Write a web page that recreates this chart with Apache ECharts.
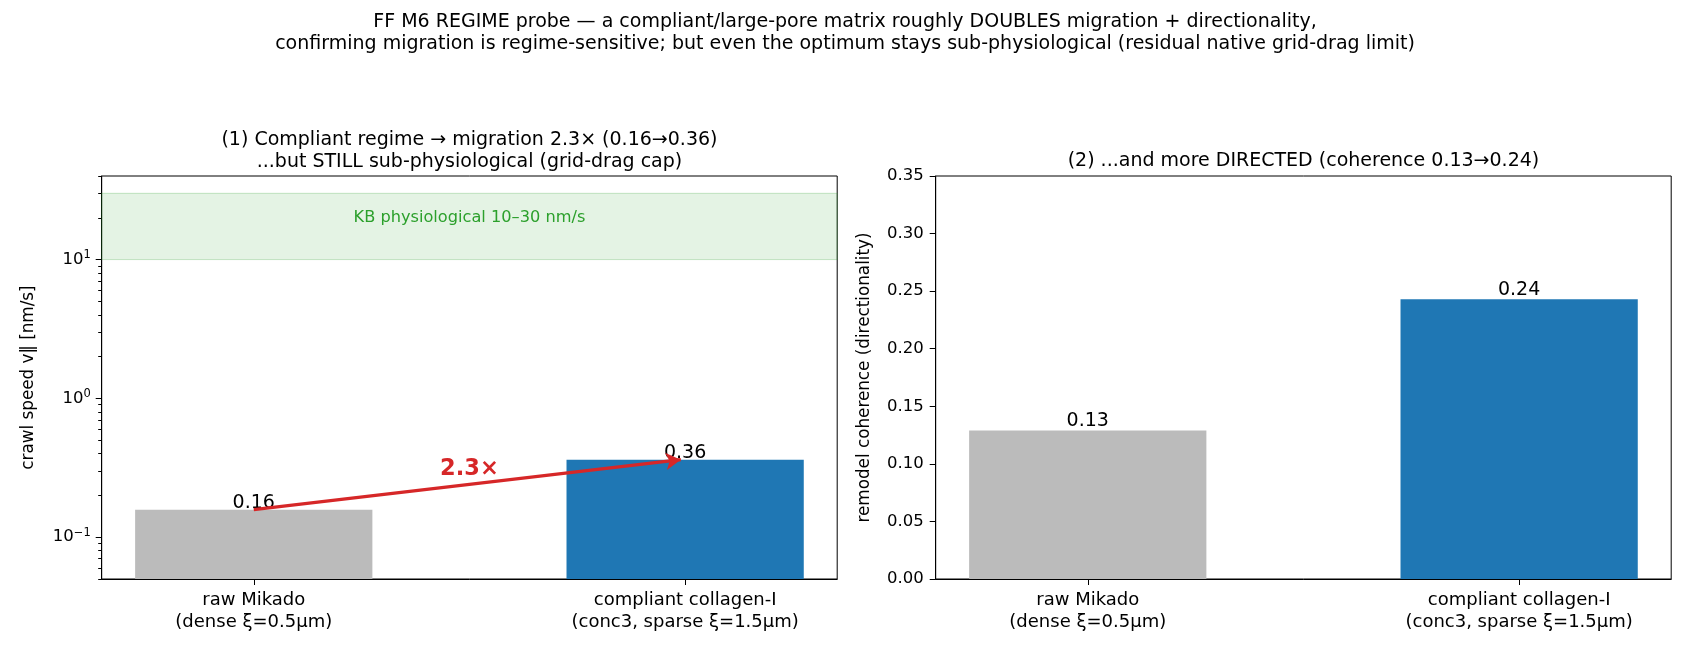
<!DOCTYPE html>
<html>
<head>
<meta charset="utf-8">
<title>FF M6 regime probe</title>
<script src="https://cdn.jsdelivr.net/npm/echarts@6.0.0/dist/echarts.min.js"></script>
<style>
    html, body { margin: 0; padding: 0; background: #fff; }
    #chart { width: 1690px; height: 650px; }
</style>
</head>
<body>
<div id="chart"></div>
<script>
// data
var categories = ['raw Mikado\n(dense ξ=0.5μm)', 'compliant collagen-I\n(conc3, sparse ξ=1.5μm)'];
var barColors = ['#bbbbbb', '#1f77b4'];
var crawlSpeed = [0.158, 0.362];
var coherence = [0.129, 0.243];
var physioBand = [10, 30];
var physioLabel = 'KB physiological 10–30 nm/s';
var foldText = '2.3×';
var logMajorTicks = [0.1, 1, 10];
var logMinorTicks = [0.05, 0.06, 0.07, 0.08, 0.09, 0.2, 0.3, 0.4, 0.5, 0.6, 0.7, 0.8, 0.9,
    2, 3, 4, 5, 6, 7, 8, 9, 20, 30, 40];

var FONT = 'DejaVu Sans';
var gridW = 735.5, gridH = 403, gridTop = 176;
var grids = [101.7, 935.7];
var xMin = -0.3525, xMax = 1.3525;
var barW = 0.55 / (xMax - xMin) * gridW;

function barData(vals) {
    return vals.map((v, i) => { return { value: [i, v], itemStyle: { color: barColors[i] } } });
}

function xAxisFor(idx) {
    return {
        type: 'value', gridIndex: idx, min: xMin, max: xMax,
        splitLine: { show: false },
        axisLine: { show: true, onZero: false, lineStyle: { color: '#000', width: 1 } },
        axisTick: { show: true, customValues: [0, 1], length: 6, lineStyle: { color: '#000' } },
        axisLabel: {
            customValues: [0, 1], margin: 10, color: '#000', fontFamily: FONT, fontSize: 18,
            lineHeight: 22, formatter: v => categories[Math.round(v)]
        }
    };
}

var supRich = {
    b: { fontFamily: FONT, fontSize: 16.5, color: '#000' },
    s: { fontFamily: FONT, fontSize: 11.5, color: '#000', verticalAlign: 'top', padding: [0, 0, 9, 0] }
};

var option = {
    animation: false,
    grid: grids.map(l => ({ left: l, top: gridTop, width: gridW, height: gridH, show: true,
        borderColor: '#000', borderWidth: 1, backgroundColor: 'transparent' })),
    xAxis: [xAxisFor(0), xAxisFor(1)],
    yAxis: [
        {
            type: 'log', logBase: 10, gridIndex: 0, min: 0.05, max: 40, startValue: 0.05, position: 'left',
            name: 'crawl speed v‖ [nm/s]', nameLocation: 'middle', nameGap: 65,
            nameTextStyle: { fontFamily: FONT, fontSize: 16.8, color: '#000' },
            splitLine: { show: false },
            axisLine: { show: true, onZero: false, lineStyle: { color: '#000' } },
            axisTick: { show: true, customValues: logMajorTicks, length: 6, lineStyle: { color: '#000' } },
            axisLabel: {
                customValues: logMajorTicks, margin: 11,
                formatter: v => '{b|10}{s|' + String(Math.round(Math.log10(v))).replace('-', '\u2212') + '}',
                rich: supRich
            }
        },
        {
            type: 'log', logBase: 10, gridIndex: 0, min: 0.05, max: 40, position: 'left',
            splitLine: { show: false }, axisLine: { show: false, onZero: false }, axisLabel: { show: false },
            axisTick: { show: true, customValues: logMinorTicks, length: 3.5, lineStyle: { color: '#000' } }
        },
        {
            type: 'value', gridIndex: 1, min: 0, max: 0.35, interval: 0.05, position: 'left',
            name: 'remodel coherence (directionality)', nameLocation: 'middle', nameGap: 63,
            nameTextStyle: { fontFamily: FONT, fontSize: 16.8, color: '#000' },
            splitLine: { show: false },
            axisLine: { show: true, onZero: false, lineStyle: { color: '#000' } },
            axisTick: { show: true, length: 6, lineStyle: { color: '#000' } },
            axisLabel: { margin: 12, color: '#000', fontFamily: FONT, fontSize: 16.5, formatter: v => v.toFixed(2) }
        }
    ],
    graphic: [
        { type: 'text', left: 'center', top: 11, style: {
            text: 'FF M6 REGIME probe — a compliant/large-pore matrix roughly DOUBLES migration + directionality,\nconfirming migration is regime-sensitive; but even the optimum stays sub-physiological (residual native grid-drag limit)',
            font: '19px "' + FONT + '"', fill: '#000', textAlign: 'center', lineHeight: 22 } },
        { type: 'text', x: grids[0] + gridW / 2, y: 129, style: {
            text: '(1) Compliant regime → migration 2.3× (0.16→0.36)\n...but STILL sub-physiological (grid-drag cap)',
            font: '19px "' + FONT + '"', fill: '#000', textAlign: 'center', lineHeight: 22 } },
        { type: 'text', x: grids[1] + gridW / 2, y: 152, style: {
            text: '(2) ...and more DIRECTED (coherence 0.13→0.24)',
            font: '19px "' + FONT + '"', fill: '#000', textAlign: 'center' } }
    ],
    series: [
        {
            type: 'bar', xAxisIndex: 0, yAxisIndex: 0, barWidth: barW,
            data: barData(crawlSpeed),
            label: { show: true, position: 'top', distance: -2.5, color: '#000', fontFamily: FONT, fontSize: 19,
                formatter: p => p.value[1].toFixed(2) },
            markArea: {
                silent: true,
                itemStyle: { color: 'rgba(44,160,44,0.13)', borderColor: 'rgba(44,160,44,0.25)', borderWidth: 1 },
                data: [[{ yAxis: physioBand[0] }, { yAxis: physioBand[1] }]]
            },
            markLine: {
                silent: true, symbol: ['none', 'arrow'], symbolSize: [13, 15],
                lineStyle: { color: '#d62728', width: 3.2, type: 'solid' },
                label: { show: false },
                data: [[{ coord: [0, crawlSpeed[0]] }, { coord: [0.99, crawlSpeed[1]] }]]
            },
            markPoint: {
                silent: true, symbol: 'circle', symbolSize: 0,
                data: [
                    { coord: [0.5, 20], label: { show: true, position: 'inside', formatter: physioLabel,
                        color: '#2ca02c', fontFamily: FONT, fontSize: 16.2 } },
                    { coord: [0.5, 0.31], label: { show: true, position: 'inside', formatter: foldText,
                        color: '#d62728', fontFamily: FONT, fontSize: 22.5, fontWeight: 'bold' } }
                ]
            }
        },
        {
            type: 'bar', xAxisIndex: 1, yAxisIndex: 2, barWidth: barW,
            data: barData(coherence),
            label: { show: true, position: 'top', distance: 0, color: '#000', fontFamily: FONT, fontSize: 19,
                formatter: p => p.value[1].toFixed(2) }
        }
    ]
};

var myChart = echarts.init(document.getElementById('chart'));
myChart.setOption(option);
</script>
</body>
</html>
